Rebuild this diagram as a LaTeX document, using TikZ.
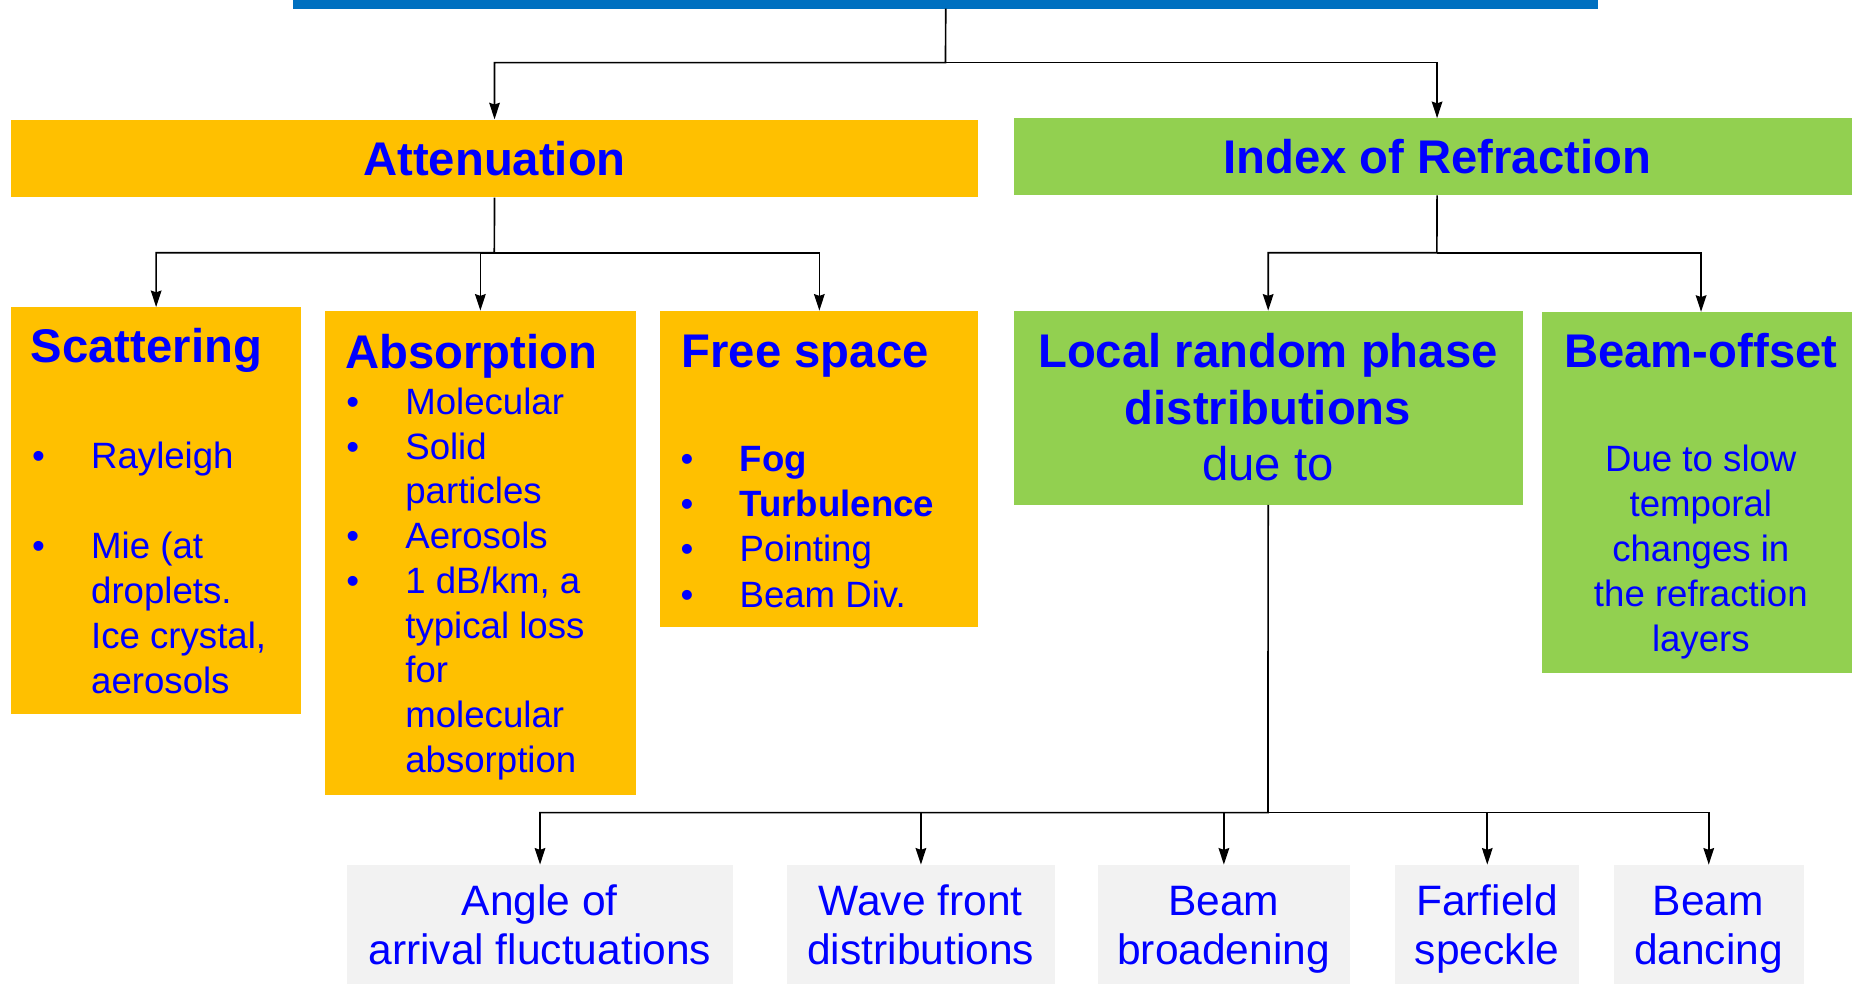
\documentclass[tikz,border=0pt]{standalone}
\usepackage{fontspec}
\setmainfont{Liberation Sans}
\usetikzlibrary{arrows.meta}
\definecolor{orgfill}{HTML}{FFC000}
\definecolor{grnfill}{HTML}{92D050}
\definecolor{grayfill}{HTML}{F2F2F2}
\definecolor{barblue}{HTML}{0070C0}
\definecolor{txtblue}{HTML}{0000FF}
\newcommand\bpt{\makebox[50pt][l]{\textbullet}}
\newcommand\bind{\makebox[50pt]{}}
\tikzset{
  box/.style={inner sep=0pt, anchor=north west},
  obox/.style={box, fill=orgfill},
  gbox/.style={box, fill=grnfill},
  lbox/.style={box, fill=grayfill},
  head/.style={text=txtblue, font=\fontsize{40}{48}\selectfont\bfseries, inner sep=0pt},
  body/.style={text=txtblue, font=\fontsize{31}{38}\selectfont, inner sep=0pt},
  leaf/.style={text=txtblue, font=\fontsize{36}{42}\selectfont, inner sep=0pt, anchor=base, align=center},
  arr/.style={-{Stealth[length=14pt,width=9pt,inset=1.5pt]}, line width=1.4pt},
}
\begin{document}
\begin{tikzpicture}[x=1pt,y=-1pt]
   \useasboundingbox (0,0) rectangle (1568,833);
   % top level
   \node[box, fill=barblue, minimum width=1105pt, minimum height=7pt] (title) at (248,0) {};
   \node[obox, head, minimum width=819pt, minimum height=66pt] (att) at (9,101) {Attenuation};
   \node[gbox, head, minimum width=717pt, minimum height=65pt] (ior) at (858,100) {Index of Refraction};
   % second level boxes
   \node[obox, minimum width=246pt, minimum height=344pt] (scat) at (9,260) {};
   \node[obox, minimum width=263pt, minimum height=410pt] (abs) at (275,263) {};
   \node[obox, minimum width=269pt, minimum height=268pt] (free) at (559,263) {};
   \node[gbox, minimum width=431pt, minimum height=164pt] (lrp) at (858,263) {};
   \node[gbox, minimum width=270pt, minimum height=306pt] (boff) at (1305,264) {};
   % headings (multi-line nodes sit on their last line)
   \node[head, anchor=base west] (scatH) at (26,307) {Scattering};
   \node[head, anchor=base west] (absH) at (292,312) {Absorption};
   \node[head, anchor=base west] (freeH) at (577,311) {Free space};
   \node[head, anchor=base, align=center] (lrpH) at (1073.5,407) {Local random phase\\distributions\\\mdseries due to};
   \node[head, anchor=base] (boffH) at (1440,311) {Beam-offset};
   % lists
   \node[body, anchor=base west, align=left] (scatB) at (27,587) {\bpt Rayleigh\\[38pt]\bpt Mie (at\\\bind droplets.\\\bind Ice crystal,\\\bind aerosols};
   \node[body, anchor=base west, align=left, font=\fontsize{31}{37.9}\selectfont] (absB) at (293,654) {\bpt Molecular\\\bpt Solid\\\bind particles\\\bpt Aerosols\\\bpt 1 dB/km, a\\\bind typical loss\\\bind for\\\bind molecular\\\bind absorption};
   \node[body, anchor=base west, align=left, font=\fontsize{31}{38.3}\selectfont] (freeB) at (576,514) {\bpt\textbf{Fog}\\\bpt\textbf{Turbulence}\\\bpt Pointing\\\bpt Beam Div.};
   \node[body, anchor=base, align=center] (boffB) at (1440,551.5) {Due to slow\\temporal\\changes in\\the refraction\\layers};
   % third level
   \node[lbox, minimum width=326pt, minimum height=110pt] (aoa) at (294,732) {};
   \node[lbox, minimum width=227pt, minimum height=110pt] (wfd) at (666,732) {};
   \node[lbox, minimum width=214pt, minimum height=110pt] (bbr) at (929,732) {};
   \node[lbox, minimum width=156pt, minimum height=110pt] (ffs) at (1181,732) {};
   \node[lbox, minimum width=161pt, minimum height=110pt] (bdc) at (1366,732) {};
   \node[leaf] (aoaT) at (457,817) {Angle of\\arrival fluctuations};
   \node[leaf] (wfdT) at (779.5,817) {Wave front\\distributions};
   \node[leaf] (bbrT) at (1036,817) {Beam\\broadening};
   \node[leaf] (ffsT) at (1259,817) {Farfield\\speckle};
   \node[leaf] (bdcT) at (1446.5,817) {Beam\\dancing};
   % connectors
   \coordinate (j0) at (800.5,53);
   \coordinate (j1) at (418.5,214);
   \coordinate (j2) at (1216.5,214);
   \coordinate (j3) at (1073.5,688);
   \draw[arr] (title.south) -- (j0) -| (att.north);
   \draw[arr] (j0) -| (ior.north);
   \draw[arr] (att.south) -- (j1) -| (scat.north);
   \draw[arr] (j1) -| (abs.north);
   \draw[arr] (j1) -| (free.north);
   \draw[arr] (ior.south) -- (j2) -| (lrp.north);
   \draw[arr] (j2) -| (boff.north);
   \draw[arr] (lrp.south) -- (j3) -| (aoa.north);
   \draw[arr] (j3) -| (wfd.north);
   \draw[arr] (j3) -| (bbr.north);
   \draw[arr] (j3) -| (ffs.north);
   \draw[arr] (j3) -| (bdc.north);
\end{tikzpicture}
\end{document}
